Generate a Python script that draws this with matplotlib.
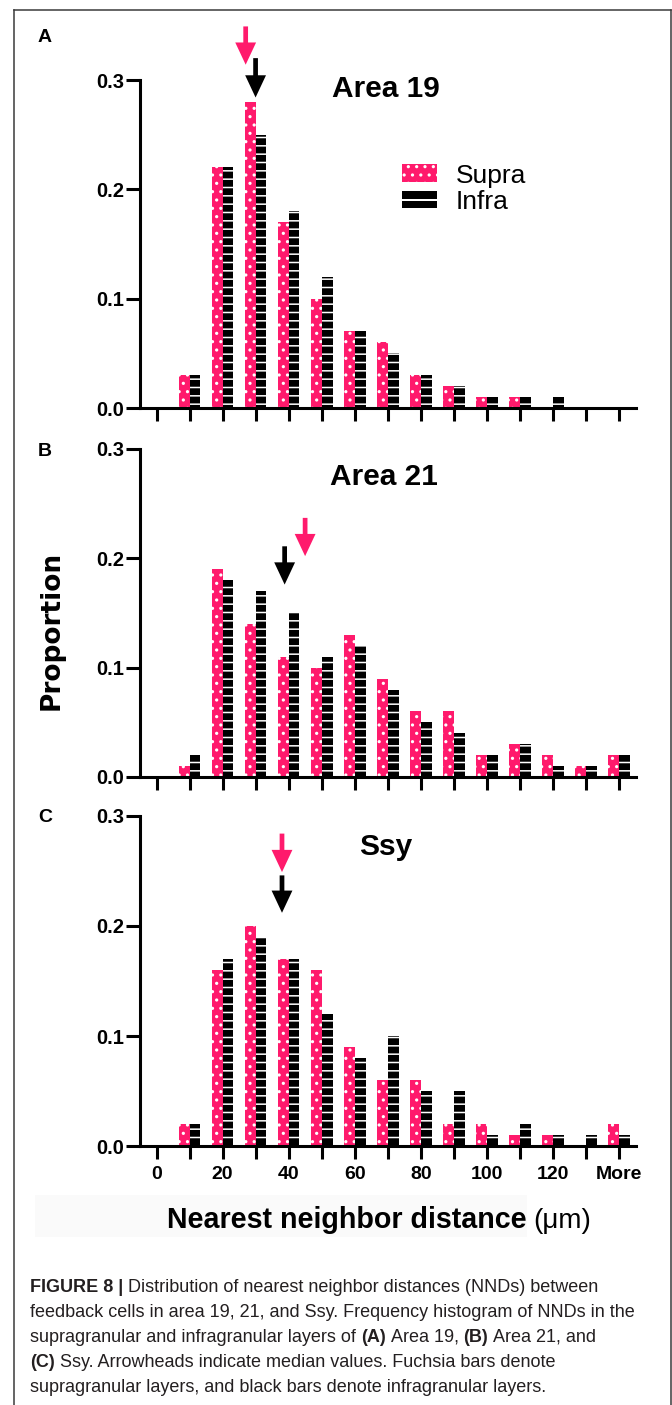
import matplotlib
matplotlib.use("Agg")
import matplotlib.pyplot as plt
import numpy as np
from matplotlib.patches import Rectangle
from matplotlib.lines import Line2D
from matplotlib.transforms import Affine2D

# ---------------- data ----------------
bin_ticks = [0, 10, 20, 30, 40, 50, 60, 70, 80, 90, 100, 110, 120, 130, 140]
bin_labels = ["0", "", "20", "", "40", "", "60", "", "80", "", "100", "", "120", "", "More"]
y_ticks = [0.0, 0.1, 0.2, 0.3]
y_tick_labels = ["0.0", "0.1", "0.2", "0.3"]

panel_letters = ["A", "B", "C"]
panel_titles = ["Area 19", "Area 21", "Ssy"]

supra_19 = [0, 0.03, 0.22, 0.28, 0.17, 0.10, 0.07, 0.06, 0.03, 0.02, 0.01, 0.01, 0.00, 0.00, 0.00]
infra_19 = [0, 0.03, 0.22, 0.25, 0.18, 0.12, 0.07, 0.05, 0.03, 0.02, 0.01, 0.01, 0.01, 0.00, 0.00]
supra_21 = [0, 0.01, 0.19, 0.14, 0.11, 0.10, 0.13, 0.09, 0.06, 0.06, 0.02, 0.03, 0.02, 0.01, 0.02]
infra_21 = [0, 0.02, 0.18, 0.17, 0.15, 0.11, 0.12, 0.08, 0.05, 0.04, 0.02, 0.03, 0.01, 0.01, 0.02]
supra_ssy = [0, 0.02, 0.16, 0.20, 0.17, 0.16, 0.09, 0.06, 0.06, 0.02, 0.02, 0.01, 0.01, 0.00, 0.02]
infra_ssy = [0, 0.02, 0.17, 0.19, 0.17, 0.12, 0.08, 0.10, 0.05, 0.05, 0.01, 0.02, 0.01, 0.01, 0.01]

# median arrowheads (x = median NND, arrow spans y_top -> y_tip)
median_supra_x = [27.0, 45.0, 38.0]
median_infra_x = [30.0, 38.8, 38.0]
arrow_supra_y = [(0.349, 0.314), (0.237, 0.202), (0.284, 0.249)]
arrow_infra_y = [(0.320, 0.284), (0.211, 0.176), (0.246, 0.212)]

supra_series = [supra_19, supra_21, supra_ssy]
infra_series = [infra_19, infra_21, infra_ssy]

legend_labels = ["Supra", "Infra"]
xlabel_main = "Nearest neighbor distance"
xlabel_unit = "(\u03bcm)"
ylabel = "Proportion"

caption_lines = [
    [("FIGURE 8 |", "bold"), ("Distribution of nearest neighbor distances (NNDs) between", "normal")],
    [("feedback cells in area 19, 21, and Ssy. Frequency histogram of NNDs in the", "normal")],
    [("supragranular and infragranular layers of", "normal"), ("(A)", "bold"), ("Area 19,", "normal"),
     ("(B)", "bold"), ("Area 21, and", "normal")],
    [("(C)", "bold"), ("Ssy. Arrowheads indicate median values. Fuchsia bars denote", "normal")],
    [("supragranular layers, and black bars denote infragranular layers.", "normal")],
]

# ---------------- style ----------------
PINK = "#ff1a6c"
BLACK = "#000000"
W, H = 672, 1405
SANS = "Liberation Sans"
plt.rcParams["font.family"] = [SANS, "DejaVu Sans"]
plt.rcParams["hatch.linewidth"] = 1.1

fig = plt.figure(figsize=(W / 100, H / 100), dpi=100)
fig.patch.set_facecolor("white")

# pixel (top-left origin) -> display transform
PX = Affine2D().scale(1.0 / W, -1.0 / H).translate(0, 1) + fig.transFigure

# figure frame
for (x0, y0, x1, y1) in [(13.5, 10, 13.5, H + 5), (13.5, 10, 670.5, 10), (670.5, 10, 670.5, H + 5)]:
    fig.add_artist(Line2D([x0, x1], [y0, y1], transform=PX, color="#3a3a3a", lw=1.1))

# faint backdrop behind x label
fig.add_artist(Rectangle((35, 1195), 492, 42, transform=PX, facecolor="#fafafa",
                         edgecolor="none", zorder=0))

# axes placement in pixels: (y of 0.3, y of 0.0)
ax_rows = [(80, 408), (449, 777), (816, 1146)]
ax_left, ax_right = 140, 636
xlim = (-5.0, 145.2)
bar_w = 3.3

title_pos = [(386, 97), (384, 485), (386, 855)]
letter_pos = [(45, 37), (45, 452), (45, 818)]

axes = []
for i, (ytop, ybot) in enumerate(ax_rows):
    ax = fig.add_axes([ax_left / W, 1 - ybot / H, (ax_right - ax_left) / W, (ybot - ytop) / H])
    axes.append(ax)
    x = np.array(bin_ticks, dtype=float)
    ax.bar(x - bar_w, supra_series[i], width=bar_w, align="edge", color=PINK,
           edgecolor="white", linewidth=0, hatch="..", zorder=2)
    ax.bar(x, infra_series[i], width=bar_w, align="edge", color=BLACK,
           edgecolor="white", linewidth=0, hatch="--", zorder=2)
    ax.set_xlim(*xlim)
    ax.set_ylim(0, 0.3)
    ax.set_yticks(y_ticks)
    ax.set_yticklabels(y_tick_labels)
    ax.set_xticks(bin_ticks)
    if i == 2:
        ax.set_xticklabels(bin_labels)
    else:
        ax.set_xticklabels([""] * len(bin_ticks))
    for s in ["top", "right"]:
        ax.spines[s].set_visible(False)
    for s in ["left", "bottom"]:
        ax.spines[s].set_linewidth(2.2)
        ax.spines[s].set_color("black")
    ax.tick_params(axis="y", direction="out", length=10, width=2.2, pad=1.5,
                   labelsize=14.5)
    ax.tick_params(axis="x", direction="out", length=9.5, width=2.2, pad=5,
                   labelsize=14)
    for lab in ax.get_yticklabels() + ax.get_xticklabels():
        lab.set_fontweight("bold")
        lab.set_family(SANS)
    ax.patch.set_alpha(0)

    # median arrowheads
    for mx, (yt, yb), col in [(median_supra_x[i], arrow_supra_y[i], PINK),
                              (median_infra_x[i], arrow_infra_y[i], BLACK)]:
        ax.annotate("", xy=(mx, yb), xytext=(mx, yt),
                    arrowprops=dict(arrowstyle="simple,head_length=0.8,head_width=0.75,tail_width=0.17",
                                    color=col, lw=0, shrinkA=0, shrinkB=0, mutation_scale=20),
                    annotation_clip=False, zorder=5)

    tx, ty = title_pos[i]
    fig.text(tx, ty, panel_titles[i], transform=PX, ha="center", va="baseline",
             fontsize=21.5, fontweight="bold", family=SANS)
    lx, ly = letter_pos[i]
    fig.text(lx, ly, panel_letters[i], transform=PX, ha="center", va="center",
             fontsize=14, fontweight="bold", family=SANS)

# legend (panel A)
fig.add_artist(Rectangle((402, 164), 35, 18, transform=PX, facecolor=PINK,
                         edgecolor="white", linewidth=0, hatch=".."))
fig.add_artist(Rectangle((402, 191), 35, 7.5, transform=PX, facecolor=BLACK, edgecolor="none"))
fig.add_artist(Rectangle((402, 200.5), 35, 7.5, transform=PX, facecolor=BLACK, edgecolor="none"))
fig.text(456, 183, legend_labels[0], transform=PX, ha="left", va="baseline", fontsize=19, family=SANS)
fig.text(456, 209, legend_labels[1], transform=PX, ha="left", va="baseline", fontsize=19, family=SANS)

# axis labels
fig.text(52, 630, ylabel, transform=PX, ha="center", va="center", rotation=90,
         fontsize=19, fontweight="bold", family="DejaVu Sans")
fig.text(167, 1228, xlabel_main, transform=PX, ha="left", va="baseline",
         fontsize=20.6, fontweight="bold", family=SANS)
fig.text(533, 1228, xlabel_unit, transform=PX, ha="left", va="baseline",
         fontsize=20, family=SANS)

# caption
renderer = fig.canvas.get_renderer()


def text_w(s, size, weight):
    t = fig.text(0, 0, s, fontsize=size, fontweight=weight, family=SANS)
    w = t.get_window_extent(renderer).width
    t.remove()
    return w


# fit caption font size so line 2 spans the same width as in the figure
base = 12.0
target = 635 - 30
meas = text_w(caption_lines[1][0][0], base, "normal")
cap_size = base * target / meas
space_w = text_w("a a", cap_size, "normal") - text_w("aa", cap_size, "normal")

cap_baselines = [1292, 1317, 1342, 1367, 1392]
for line, yb in zip(caption_lines, cap_baselines):
    xcur = 30.0
    for s, wt in line:
        t = fig.text(xcur, yb, s, transform=PX, ha="left", va="baseline",
                     fontsize=cap_size, fontweight=wt, family=SANS, color="#231f20")
        xcur += t.get_window_extent(renderer).width + space_w

fig.savefig("out.png", dpi=100, facecolor="white")
